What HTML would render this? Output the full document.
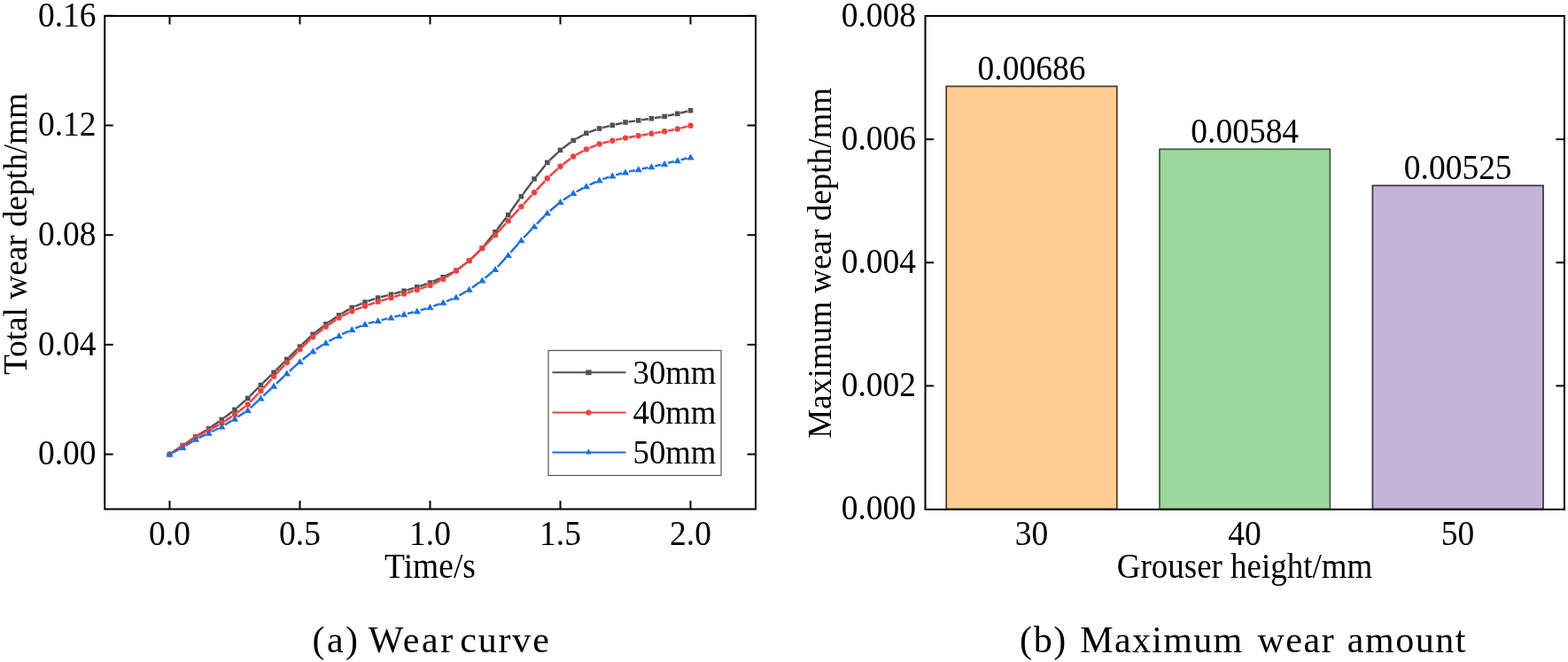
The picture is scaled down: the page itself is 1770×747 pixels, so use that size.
<!DOCTYPE html><html><head><meta charset="utf-8"><style>html,body{margin:0;padding:0;background:#fff;overflow:hidden;}svg{display:block;}text{font-family:"Liberation Serif","Times New Roman",serif;fill:#000;}</style></head><body>
<svg width="1770" height="747" viewBox="0 0 1770 747">
<rect width="1770" height="747" fill="#fff"/>
<line x1="194.39" y1="510.63" x2="203.31" y2="504.57" stroke="#515151" stroke-width="2.4"/>
<line x1="209.09" y1="500.63" x2="218.01" y2="494.57" stroke="#515151" stroke-width="2.4"/>
<line x1="223.90" y1="490.80" x2="232.60" y2="485.60" stroke="#515151" stroke-width="2.4"/>
<line x1="238.47" y1="481.79" x2="247.43" y2="475.51" stroke="#515151" stroke-width="2.4"/>
<line x1="253.09" y1="471.39" x2="262.21" y2="464.51" stroke="#515151" stroke-width="2.4"/>
<line x1="267.62" y1="460.08" x2="277.08" y2="451.72" stroke="#515151" stroke-width="2.4"/>
<line x1="282.16" y1="446.91" x2="291.94" y2="436.99" stroke="#515151" stroke-width="2.4"/>
<line x1="296.92" y1="432.07" x2="306.58" y2="422.73" stroke="#515151" stroke-width="2.4"/>
<line x1="311.57" y1="417.82" x2="321.33" y2="407.98" stroke="#515151" stroke-width="2.4"/>
<line x1="326.30" y1="403.05" x2="336.00" y2="393.55" stroke="#515151" stroke-width="2.4"/>
<line x1="341.05" y1="388.70" x2="350.65" y2="379.70" stroke="#515151" stroke-width="2.4"/>
<line x1="355.95" y1="375.13" x2="365.15" y2="367.87" stroke="#515151" stroke-width="2.4"/>
<line x1="370.79" y1="363.73" x2="379.71" y2="357.67" stroke="#515151" stroke-width="2.4"/>
<line x1="385.62" y1="353.93" x2="394.28" y2="348.87" stroke="#515151" stroke-width="2.4"/>
<line x1="400.53" y1="345.76" x2="408.77" y2="342.34" stroke="#515151" stroke-width="2.4"/>
<line x1="415.32" y1="339.89" x2="423.38" y2="337.21" stroke="#515151" stroke-width="2.4"/>
<line x1="430.09" y1="335.22" x2="438.01" y2="333.18" stroke="#515151" stroke-width="2.4"/>
<line x1="444.78" y1="331.38" x2="452.72" y2="329.22" stroke="#515151" stroke-width="2.4"/>
<line x1="459.45" y1="327.30" x2="467.45" y2="324.90" stroke="#515151" stroke-width="2.4"/>
<line x1="474.12" y1="322.79" x2="482.18" y2="320.11" stroke="#515151" stroke-width="2.4"/>
<line x1="488.72" y1="317.62" x2="496.98" y2="314.08" stroke="#515151" stroke-width="2.4"/>
<line x1="503.33" y1="311.14" x2="511.77" y2="306.96" stroke="#515151" stroke-width="2.4"/>
<line x1="517.69" y1="303.29" x2="526.81" y2="296.41" stroke="#515151" stroke-width="2.4"/>
<line x1="532.11" y1="291.86" x2="541.79" y2="282.44" stroke="#515151" stroke-width="2.4"/>
<line x1="546.50" y1="277.28" x2="556.80" y2="264.52" stroke="#515151" stroke-width="2.4"/>
<line x1="561.12" y1="259.02" x2="571.58" y2="245.28" stroke="#515151" stroke-width="2.4"/>
<line x1="575.72" y1="239.64" x2="586.38" y2="224.56" stroke="#515151" stroke-width="2.4"/>
<line x1="590.49" y1="218.89" x2="601.01" y2="204.71" stroke="#515151" stroke-width="2.4"/>
<line x1="605.28" y1="199.16" x2="615.62" y2="186.14" stroke="#515151" stroke-width="2.4"/>
<line x1="620.33" y1="180.99" x2="629.97" y2="171.81" stroke="#515151" stroke-width="2.4"/>
<line x1="635.31" y1="167.32" x2="644.39" y2="160.58" stroke="#515151" stroke-width="2.4"/>
<line x1="650.26" y1="156.79" x2="658.84" y2="152.01" stroke="#515151" stroke-width="2.4"/>
<line x1="665.19" y1="149.11" x2="673.31" y2="146.19" stroke="#515151" stroke-width="2.4"/>
<line x1="679.99" y1="144.15" x2="687.91" y2="142.15" stroke="#515151" stroke-width="2.4"/>
<line x1="694.72" y1="140.53" x2="702.58" y2="138.77" stroke="#515151" stroke-width="2.4"/>
<line x1="709.46" y1="137.51" x2="717.24" y2="136.39" stroke="#515151" stroke-width="2.4"/>
<line x1="724.16" y1="135.38" x2="731.94" y2="134.22" stroke="#515151" stroke-width="2.4"/>
<line x1="738.86" y1="133.16" x2="746.64" y2="131.94" stroke="#515151" stroke-width="2.4"/>
<line x1="753.52" y1="130.68" x2="761.38" y2="129.02" stroke="#515151" stroke-width="2.4"/>
<line x1="768.20" y1="127.47" x2="776.10" y2="125.53" stroke="#515151" stroke-width="2.4"/>
<line x1="194.68" y1="510.52" x2="203.02" y2="505.08" stroke="#F14040" stroke-width="2.4"/>
<line x1="209.36" y1="500.89" x2="217.74" y2="495.31" stroke="#F14040" stroke-width="2.4"/>
<line x1="224.28" y1="491.45" x2="232.22" y2="487.35" stroke="#F14040" stroke-width="2.4"/>
<line x1="238.93" y1="483.77" x2="246.97" y2="479.33" stroke="#F14040" stroke-width="2.4"/>
<line x1="253.46" y1="475.39" x2="261.84" y2="469.81" stroke="#F14040" stroke-width="2.4"/>
<line x1="268.02" y1="465.40" x2="276.68" y2="458.80" stroke="#F14040" stroke-width="2.4"/>
<line x1="282.31" y1="453.74" x2="291.79" y2="443.76" stroke="#F14040" stroke-width="2.4"/>
<line x1="296.95" y1="438.19" x2="306.55" y2="427.61" stroke="#F14040" stroke-width="2.4"/>
<line x1="311.70" y1="422.03" x2="321.20" y2="411.87" stroke="#F14040" stroke-width="2.4"/>
<line x1="326.48" y1="406.40" x2="335.82" y2="397.00" stroke="#F14040" stroke-width="2.4"/>
<line x1="341.24" y1="391.67" x2="350.46" y2="382.83" stroke="#F14040" stroke-width="2.4"/>
<line x1="356.18" y1="377.85" x2="364.92" y2="370.95" stroke="#F14040" stroke-width="2.4"/>
<line x1="371.04" y1="366.46" x2="379.46" y2="360.74" stroke="#F14040" stroke-width="2.4"/>
<line x1="385.98" y1="356.85" x2="393.92" y2="352.75" stroke="#F14040" stroke-width="2.4"/>
<line x1="400.83" y1="349.61" x2="408.47" y2="346.59" stroke="#F14040" stroke-width="2.4"/>
<line x1="415.61" y1="344.02" x2="423.09" y2="341.58" stroke="#F14040" stroke-width="2.4"/>
<line x1="430.33" y1="339.29" x2="437.77" y2="337.01" stroke="#F14040" stroke-width="2.4"/>
<line x1="445.05" y1="334.83" x2="452.45" y2="332.67" stroke="#F14040" stroke-width="2.4"/>
<line x1="459.73" y1="330.49" x2="467.17" y2="328.21" stroke="#F14040" stroke-width="2.4"/>
<line x1="474.38" y1="325.83" x2="481.92" y2="323.17" stroke="#F14040" stroke-width="2.4"/>
<line x1="488.94" y1="320.29" x2="496.76" y2="316.61" stroke="#F14040" stroke-width="2.4"/>
<line x1="503.38" y1="312.92" x2="511.72" y2="307.48" stroke="#F14040" stroke-width="2.4"/>
<line x1="517.93" y1="303.11" x2="526.57" y2="296.59" stroke="#F14040" stroke-width="2.4"/>
<line x1="532.35" y1="291.68" x2="541.55" y2="282.92" stroke="#F14040" stroke-width="2.4"/>
<line x1="546.95" y1="277.58" x2="556.35" y2="267.92" stroke="#F14040" stroke-width="2.4"/>
<line x1="561.57" y1="262.40" x2="571.13" y2="252.00" stroke="#F14040" stroke-width="2.4"/>
<line x1="576.26" y1="246.39" x2="585.84" y2="235.91" stroke="#F14040" stroke-width="2.4"/>
<line x1="590.98" y1="230.31" x2="600.52" y2="219.99" stroke="#F14040" stroke-width="2.4"/>
<line x1="605.68" y1="214.41" x2="615.22" y2="204.09" stroke="#F14040" stroke-width="2.4"/>
<line x1="620.60" y1="198.73" x2="629.70" y2="190.37" stroke="#F14040" stroke-width="2.4"/>
<line x1="635.51" y1="185.48" x2="644.19" y2="178.82" stroke="#F14040" stroke-width="2.4"/>
<line x1="650.53" y1="174.67" x2="658.57" y2="170.23" stroke="#F14040" stroke-width="2.4"/>
<line x1="665.42" y1="166.96" x2="673.08" y2="163.84" stroke="#F14040" stroke-width="2.4"/>
<line x1="680.29" y1="161.47" x2="687.61" y2="159.63" stroke="#F14040" stroke-width="2.4"/>
<line x1="695.02" y1="157.92" x2="702.28" y2="156.38" stroke="#F14040" stroke-width="2.4"/>
<line x1="709.75" y1="154.96" x2="716.95" y2="153.74" stroke="#F14040" stroke-width="2.4"/>
<line x1="724.45" y1="152.49" x2="731.65" y2="151.31" stroke="#F14040" stroke-width="2.4"/>
<line x1="739.15" y1="150.09" x2="746.35" y2="148.91" stroke="#F14040" stroke-width="2.4"/>
<line x1="753.83" y1="147.59" x2="761.07" y2="146.21" stroke="#F14040" stroke-width="2.4"/>
<line x1="768.48" y1="144.55" x2="775.82" y2="142.65" stroke="#F14040" stroke-width="2.4"/>
<line x1="195.05" y1="510.66" x2="202.65" y2="506.74" stroke="#1A6FDF" stroke-width="2.4"/>
<line x1="209.60" y1="502.79" x2="217.50" y2="497.91" stroke="#1A6FDF" stroke-width="2.4"/>
<line x1="224.51" y1="494.08" x2="231.99" y2="490.52" stroke="#1A6FDF" stroke-width="2.4"/>
<line x1="239.17" y1="487.00" x2="246.73" y2="483.20" stroke="#1A6FDF" stroke-width="2.4"/>
<line x1="253.74" y1="479.36" x2="261.56" y2="474.74" stroke="#1A6FDF" stroke-width="2.4"/>
<line x1="268.35" y1="470.51" x2="276.35" y2="465.29" stroke="#1A6FDF" stroke-width="2.4"/>
<line x1="282.63" y1="460.37" x2="291.47" y2="452.13" stroke="#1A6FDF" stroke-width="2.4"/>
<line x1="297.33" y1="446.67" x2="306.17" y2="438.43" stroke="#1A6FDF" stroke-width="2.4"/>
<line x1="311.99" y1="432.93" x2="320.91" y2="424.37" stroke="#1A6FDF" stroke-width="2.4"/>
<line x1="326.77" y1="418.92" x2="335.53" y2="410.98" stroke="#1A6FDF" stroke-width="2.4"/>
<line x1="341.62" y1="405.80" x2="350.08" y2="399.00" stroke="#1A6FDF" stroke-width="2.4"/>
<line x1="356.55" y1="394.31" x2="364.55" y2="389.09" stroke="#1A6FDF" stroke-width="2.4"/>
<line x1="371.41" y1="384.99" x2="379.09" y2="380.81" stroke="#1A6FDF" stroke-width="2.4"/>
<line x1="386.21" y1="377.18" x2="393.69" y2="373.62" stroke="#1A6FDF" stroke-width="2.4"/>
<line x1="401.01" y1="370.41" x2="408.29" y2="367.49" stroke="#1A6FDF" stroke-width="2.4"/>
<line x1="415.86" y1="364.95" x2="422.84" y2="363.05" stroke="#1A6FDF" stroke-width="2.4"/>
<line x1="430.59" y1="361.05" x2="437.51" y2="359.35" stroke="#1A6FDF" stroke-width="2.4"/>
<line x1="445.29" y1="357.45" x2="452.21" y2="355.75" stroke="#1A6FDF" stroke-width="2.4"/>
<line x1="459.99" y1="353.85" x2="466.91" y2="352.15" stroke="#1A6FDF" stroke-width="2.4"/>
<line x1="474.62" y1="350.03" x2="481.68" y2="347.87" stroke="#1A6FDF" stroke-width="2.4"/>
<line x1="489.27" y1="345.37" x2="496.43" y2="342.83" stroke="#1A6FDF" stroke-width="2.4"/>
<line x1="503.90" y1="339.99" x2="511.20" y2="337.01" stroke="#1A6FDF" stroke-width="2.4"/>
<line x1="518.34" y1="333.46" x2="526.16" y2="328.84" stroke="#1A6FDF" stroke-width="2.4"/>
<line x1="532.87" y1="324.49" x2="541.03" y2="318.71" stroke="#1A6FDF" stroke-width="2.4"/>
<line x1="547.36" y1="313.82" x2="555.94" y2="306.58" stroke="#1A6FDF" stroke-width="2.4"/>
<line x1="561.70" y1="301.05" x2="571.00" y2="290.85" stroke="#1A6FDF" stroke-width="2.4"/>
<line x1="576.34" y1="284.90" x2="585.76" y2="274.20" stroke="#1A6FDF" stroke-width="2.4"/>
<line x1="591.13" y1="268.28" x2="600.37" y2="258.42" stroke="#1A6FDF" stroke-width="2.4"/>
<line x1="605.91" y1="252.65" x2="614.99" y2="243.45" stroke="#1A6FDF" stroke-width="2.4"/>
<line x1="620.83" y1="237.98" x2="629.47" y2="230.52" stroke="#1A6FDF" stroke-width="2.4"/>
<line x1="635.83" y1="225.68" x2="643.87" y2="220.32" stroke="#1A6FDF" stroke-width="2.4"/>
<line x1="650.73" y1="216.23" x2="658.37" y2="212.17" stroke="#1A6FDF" stroke-width="2.4"/>
<line x1="665.53" y1="208.62" x2="672.97" y2="205.18" stroke="#1A6FDF" stroke-width="2.4"/>
<line x1="680.38" y1="202.19" x2="687.52" y2="199.71" stroke="#1A6FDF" stroke-width="2.4"/>
<line x1="695.17" y1="197.37" x2="702.13" y2="195.53" stroke="#1A6FDF" stroke-width="2.4"/>
<line x1="709.91" y1="193.65" x2="716.79" y2="192.15" stroke="#1A6FDF" stroke-width="2.4"/>
<line x1="724.62" y1="190.50" x2="731.48" y2="189.10" stroke="#1A6FDF" stroke-width="2.4"/>
<line x1="739.30" y1="187.40" x2="746.20" y2="185.80" stroke="#1A6FDF" stroke-width="2.4"/>
<line x1="753.99" y1="183.95" x2="760.91" y2="182.25" stroke="#1A6FDF" stroke-width="2.4"/>
<line x1="768.67" y1="180.30" x2="775.63" y2="178.50" stroke="#1A6FDF" stroke-width="2.4"/>
<rect x="188.7" y="509.8" width="5.6" height="5.6" fill="#515151"/>
<rect x="203.4" y="499.8" width="5.6" height="5.6" fill="#515151"/>
<rect x="218.1" y="489.8" width="5.6" height="5.6" fill="#515151"/>
<rect x="232.8" y="481.0" width="5.6" height="5.6" fill="#515151"/>
<rect x="247.5" y="470.7" width="5.6" height="5.6" fill="#515151"/>
<rect x="262.2" y="459.6" width="5.6" height="5.6" fill="#515151"/>
<rect x="276.9" y="446.6" width="5.6" height="5.6" fill="#515151"/>
<rect x="291.6" y="431.7" width="5.6" height="5.6" fill="#515151"/>
<rect x="306.3" y="417.5" width="5.6" height="5.6" fill="#515151"/>
<rect x="321.0" y="402.7" width="5.6" height="5.6" fill="#515151"/>
<rect x="335.7" y="388.3" width="5.6" height="5.6" fill="#515151"/>
<rect x="350.4" y="374.5" width="5.6" height="5.6" fill="#515151"/>
<rect x="365.1" y="362.9" width="5.6" height="5.6" fill="#515151"/>
<rect x="379.8" y="352.9" width="5.6" height="5.6" fill="#515151"/>
<rect x="394.5" y="344.3" width="5.6" height="5.6" fill="#515151"/>
<rect x="409.2" y="338.2" width="5.6" height="5.6" fill="#515151"/>
<rect x="423.9" y="333.3" width="5.6" height="5.6" fill="#515151"/>
<rect x="438.6" y="329.5" width="5.6" height="5.6" fill="#515151"/>
<rect x="453.3" y="325.5" width="5.6" height="5.6" fill="#515151"/>
<rect x="468.0" y="321.1" width="5.6" height="5.6" fill="#515151"/>
<rect x="482.7" y="316.2" width="5.6" height="5.6" fill="#515151"/>
<rect x="497.4" y="309.9" width="5.6" height="5.6" fill="#515151"/>
<rect x="512.1" y="302.6" width="5.6" height="5.6" fill="#515151"/>
<rect x="526.8" y="291.5" width="5.6" height="5.6" fill="#515151"/>
<rect x="541.5" y="277.2" width="5.6" height="5.6" fill="#515151"/>
<rect x="556.2" y="259.0" width="5.6" height="5.6" fill="#515151"/>
<rect x="570.9" y="239.7" width="5.6" height="5.6" fill="#515151"/>
<rect x="585.6" y="218.9" width="5.6" height="5.6" fill="#515151"/>
<rect x="600.3" y="199.1" width="5.6" height="5.6" fill="#515151"/>
<rect x="615.0" y="180.6" width="5.6" height="5.6" fill="#515151"/>
<rect x="629.7" y="166.6" width="5.6" height="5.6" fill="#515151"/>
<rect x="644.4" y="155.7" width="5.6" height="5.6" fill="#515151"/>
<rect x="659.1" y="147.5" width="5.6" height="5.6" fill="#515151"/>
<rect x="673.8" y="142.2" width="5.6" height="5.6" fill="#515151"/>
<rect x="688.5" y="138.5" width="5.6" height="5.6" fill="#515151"/>
<rect x="703.2" y="135.2" width="5.6" height="5.6" fill="#515151"/>
<rect x="717.9" y="133.1" width="5.6" height="5.6" fill="#515151"/>
<rect x="732.6" y="130.9" width="5.6" height="5.6" fill="#515151"/>
<rect x="747.3" y="128.6" width="5.6" height="5.6" fill="#515151"/>
<rect x="762.0" y="125.5" width="5.6" height="5.6" fill="#515151"/>
<rect x="776.7" y="121.9" width="5.6" height="5.6" fill="#515151"/>
<circle cx="191.5" cy="512.6" r="3.2" fill="#F14040"/>
<circle cx="206.2" cy="503.0" r="3.2" fill="#F14040"/>
<circle cx="220.9" cy="493.2" r="3.2" fill="#F14040"/>
<circle cx="235.6" cy="485.6" r="3.2" fill="#F14040"/>
<circle cx="250.3" cy="477.5" r="3.2" fill="#F14040"/>
<circle cx="265.0" cy="467.7" r="3.2" fill="#F14040"/>
<circle cx="279.7" cy="456.5" r="3.2" fill="#F14040"/>
<circle cx="294.4" cy="441.0" r="3.2" fill="#F14040"/>
<circle cx="309.1" cy="424.8" r="3.2" fill="#F14040"/>
<circle cx="323.8" cy="409.1" r="3.2" fill="#F14040"/>
<circle cx="338.5" cy="394.3" r="3.2" fill="#F14040"/>
<circle cx="353.2" cy="380.2" r="3.2" fill="#F14040"/>
<circle cx="367.9" cy="368.6" r="3.2" fill="#F14040"/>
<circle cx="382.6" cy="358.6" r="3.2" fill="#F14040"/>
<circle cx="397.3" cy="351.0" r="3.2" fill="#F14040"/>
<circle cx="412.0" cy="345.2" r="3.2" fill="#F14040"/>
<circle cx="426.7" cy="340.4" r="3.2" fill="#F14040"/>
<circle cx="441.4" cy="335.9" r="3.2" fill="#F14040"/>
<circle cx="456.1" cy="331.6" r="3.2" fill="#F14040"/>
<circle cx="470.8" cy="327.1" r="3.2" fill="#F14040"/>
<circle cx="485.5" cy="321.9" r="3.2" fill="#F14040"/>
<circle cx="500.2" cy="315.0" r="3.2" fill="#F14040"/>
<circle cx="514.9" cy="305.4" r="3.2" fill="#F14040"/>
<circle cx="529.6" cy="294.3" r="3.2" fill="#F14040"/>
<circle cx="544.3" cy="280.3" r="3.2" fill="#F14040"/>
<circle cx="559.0" cy="265.2" r="3.2" fill="#F14040"/>
<circle cx="573.7" cy="249.2" r="3.2" fill="#F14040"/>
<circle cx="588.4" cy="233.1" r="3.2" fill="#F14040"/>
<circle cx="603.1" cy="217.2" r="3.2" fill="#F14040"/>
<circle cx="617.8" cy="201.3" r="3.2" fill="#F14040"/>
<circle cx="632.5" cy="187.8" r="3.2" fill="#F14040"/>
<circle cx="647.2" cy="176.5" r="3.2" fill="#F14040"/>
<circle cx="661.9" cy="168.4" r="3.2" fill="#F14040"/>
<circle cx="676.6" cy="162.4" r="3.2" fill="#F14040"/>
<circle cx="691.3" cy="158.7" r="3.2" fill="#F14040"/>
<circle cx="706.0" cy="155.6" r="3.2" fill="#F14040"/>
<circle cx="720.7" cy="153.1" r="3.2" fill="#F14040"/>
<circle cx="735.4" cy="150.7" r="3.2" fill="#F14040"/>
<circle cx="750.1" cy="148.3" r="3.2" fill="#F14040"/>
<circle cx="764.8" cy="145.5" r="3.2" fill="#F14040"/>
<circle cx="779.5" cy="141.7" r="3.2" fill="#F14040"/>
<polygon points="191.5,508.5 195.7,515.5 187.3,515.5" fill="#1A6FDF"/>
<polygon points="206.2,500.9 210.4,507.9 202.0,507.9" fill="#1A6FDF"/>
<polygon points="220.9,491.8 225.1,498.8 216.7,498.8" fill="#1A6FDF"/>
<polygon points="235.6,484.8 239.8,491.8 231.4,491.8" fill="#1A6FDF"/>
<polygon points="250.3,477.4 254.5,484.4 246.1,484.4" fill="#1A6FDF"/>
<polygon points="265.0,468.7 269.2,475.7 260.8,475.7" fill="#1A6FDF"/>
<polygon points="279.7,459.1 283.9,466.1 275.5,466.1" fill="#1A6FDF"/>
<polygon points="294.4,445.4 298.6,452.4 290.2,452.4" fill="#1A6FDF"/>
<polygon points="309.1,431.7 313.3,438.7 304.9,438.7" fill="#1A6FDF"/>
<polygon points="323.8,417.6 328.0,424.6 319.6,424.6" fill="#1A6FDF"/>
<polygon points="338.5,404.3 342.7,411.3 334.3,411.3" fill="#1A6FDF"/>
<polygon points="353.2,392.5 357.4,399.5 349.0,399.5" fill="#1A6FDF"/>
<polygon points="367.9,382.9 372.1,389.9 363.7,389.9" fill="#1A6FDF"/>
<polygon points="382.6,374.9 386.8,381.9 378.4,381.9" fill="#1A6FDF"/>
<polygon points="397.3,367.9 401.5,374.9 393.1,374.9" fill="#1A6FDF"/>
<polygon points="412.0,362.0 416.2,369.0 407.8,369.0" fill="#1A6FDF"/>
<polygon points="426.7,358.0 430.9,365.0 422.5,365.0" fill="#1A6FDF"/>
<polygon points="441.4,354.4 445.6,361.4 437.2,361.4" fill="#1A6FDF"/>
<polygon points="456.1,350.8 460.3,357.8 451.9,357.8" fill="#1A6FDF"/>
<polygon points="470.8,347.2 475.0,354.2 466.6,354.2" fill="#1A6FDF"/>
<polygon points="485.5,342.7 489.7,349.7 481.3,349.7" fill="#1A6FDF"/>
<polygon points="500.2,337.5 504.4,344.5 496.0,344.5" fill="#1A6FDF"/>
<polygon points="514.9,331.5 519.1,338.5 510.7,338.5" fill="#1A6FDF"/>
<polygon points="529.6,322.8 533.8,329.8 525.4,329.8" fill="#1A6FDF"/>
<polygon points="544.3,312.4 548.5,319.4 540.1,319.4" fill="#1A6FDF"/>
<polygon points="559.0,300.0 563.2,307.0 554.8,307.0" fill="#1A6FDF"/>
<polygon points="573.7,283.9 577.9,290.9 569.5,290.9" fill="#1A6FDF"/>
<polygon points="588.4,267.2 592.6,274.2 584.2,274.2" fill="#1A6FDF"/>
<polygon points="603.1,251.5 607.3,258.5 598.9,258.5" fill="#1A6FDF"/>
<polygon points="617.8,236.6 622.0,243.6 613.6,243.6" fill="#1A6FDF"/>
<polygon points="632.5,223.9 636.7,230.9 628.3,230.9" fill="#1A6FDF"/>
<polygon points="647.2,214.1 651.4,221.1 643.0,221.1" fill="#1A6FDF"/>
<polygon points="661.9,206.3 666.1,213.3 657.7,213.3" fill="#1A6FDF"/>
<polygon points="676.6,199.5 680.8,206.5 672.4,206.5" fill="#1A6FDF"/>
<polygon points="691.3,194.4 695.5,201.4 687.1,201.4" fill="#1A6FDF"/>
<polygon points="706.0,190.5 710.2,197.5 701.8,197.5" fill="#1A6FDF"/>
<polygon points="720.7,187.3 724.9,194.3 716.5,194.3" fill="#1A6FDF"/>
<polygon points="735.4,184.3 739.6,191.3 731.2,191.3" fill="#1A6FDF"/>
<polygon points="750.1,180.9 754.3,187.9 745.9,187.9" fill="#1A6FDF"/>
<polygon points="764.8,177.3 769.0,184.3 760.6,184.3" fill="#1A6FDF"/>
<polygon points="779.5,173.5 783.7,180.5 775.3,180.5" fill="#1A6FDF"/>
<rect x="118.2" y="18.0" width="734.8" height="556.5" fill="none" stroke="#000" stroke-width="2.0"/>
<line x1="191.5" y1="574.5" x2="191.5" y2="565.0" stroke="#000" stroke-width="2.0"/>
<line x1="191.5" y1="18.0" x2="191.5" y2="27.5" stroke="#000" stroke-width="2.0"/>
<text transform="translate(191.50 615.00) scale(1.0 1.045)" font-size="37.5" text-anchor="middle">0.0</text>
<line x1="338.5" y1="574.5" x2="338.5" y2="565.0" stroke="#000" stroke-width="2.0"/>
<line x1="338.5" y1="18.0" x2="338.5" y2="27.5" stroke="#000" stroke-width="2.0"/>
<text transform="translate(338.50 615.00) scale(1.0 1.045)" font-size="37.5" text-anchor="middle">0.5</text>
<line x1="485.5" y1="574.5" x2="485.5" y2="565.0" stroke="#000" stroke-width="2.0"/>
<line x1="485.5" y1="18.0" x2="485.5" y2="27.5" stroke="#000" stroke-width="2.0"/>
<text transform="translate(485.50 615.00) scale(1.0 1.045)" font-size="37.5" text-anchor="middle">1.0</text>
<line x1="632.5" y1="574.5" x2="632.5" y2="565.0" stroke="#000" stroke-width="2.0"/>
<line x1="632.5" y1="18.0" x2="632.5" y2="27.5" stroke="#000" stroke-width="2.0"/>
<text transform="translate(632.50 615.00) scale(1.0 1.045)" font-size="37.5" text-anchor="middle">1.5</text>
<line x1="779.5" y1="574.5" x2="779.5" y2="565.0" stroke="#000" stroke-width="2.0"/>
<line x1="779.5" y1="18.0" x2="779.5" y2="27.5" stroke="#000" stroke-width="2.0"/>
<text transform="translate(779.50 615.00) scale(1.0 1.045)" font-size="37.5" text-anchor="middle">2.0</text>
<line x1="118.2" y1="512.6" x2="127.7" y2="512.6" stroke="#000" stroke-width="2.0"/>
<line x1="853.0" y1="512.6" x2="843.5" y2="512.6" stroke="#000" stroke-width="2.0"/>
<text transform="translate(108.60 524.40) scale(1.0 1.045)" font-size="37.5" text-anchor="end">0.00</text>
<line x1="118.2" y1="388.9" x2="127.7" y2="388.9" stroke="#000" stroke-width="2.0"/>
<line x1="853.0" y1="388.9" x2="843.5" y2="388.9" stroke="#000" stroke-width="2.0"/>
<text transform="translate(108.60 400.70) scale(1.0 1.045)" font-size="37.5" text-anchor="end">0.04</text>
<line x1="118.2" y1="265.2" x2="127.7" y2="265.2" stroke="#000" stroke-width="2.0"/>
<line x1="853.0" y1="265.2" x2="843.5" y2="265.2" stroke="#000" stroke-width="2.0"/>
<text transform="translate(108.60 277.00) scale(1.0 1.045)" font-size="37.5" text-anchor="end">0.08</text>
<line x1="118.2" y1="141.5" x2="127.7" y2="141.5" stroke="#000" stroke-width="2.0"/>
<line x1="853.0" y1="141.5" x2="843.5" y2="141.5" stroke="#000" stroke-width="2.0"/>
<text transform="translate(108.60 153.30) scale(1.0 1.045)" font-size="37.5" text-anchor="end">0.12</text>
<line x1="118.2" y1="17.8" x2="127.7" y2="17.8" stroke="#000" stroke-width="2.0"/>
<line x1="853.0" y1="17.8" x2="843.5" y2="17.8" stroke="#000" stroke-width="2.0"/>
<text transform="translate(108.60 29.60) scale(1.0 1.045)" font-size="37.5" text-anchor="end">0.16</text>
<text transform="translate(485.50 652.00) scale(1.0 1.045)" font-size="37.5" text-anchor="middle">Time/s</text>
<text transform="translate(29.80 264.00) rotate(-90) scale(0.994 1.0)" font-size="37.5" text-anchor="middle">Total wear depth/mm</text>
<rect x="619" y="395.5" width="195" height="141" fill="#fff" stroke="#555" stroke-width="1.2"/>
<line x1="623.5" y1="420.3" x2="706.5" y2="420.3" stroke="#515151" stroke-width="2.0"/>
<rect x="661.2" y="417.4" width="6.4" height="5.8" fill="#515151"/>
<text transform="translate(714.53 432.90) scale(0.98 1.0)" font-size="37.5">30mm</text>
<line x1="623.5" y1="465.6" x2="706.5" y2="465.6" stroke="#F14040" stroke-width="2.0"/>
<circle cx="664.4" cy="465.6" r="3.2" fill="#F14040"/>
<text transform="translate(714.53 478.20) scale(0.98 1.0)" font-size="37.5">40mm</text>
<line x1="623.5" y1="510.5" x2="706.5" y2="510.5" stroke="#1A6FDF" stroke-width="2.0"/>
<polygon points="664.4,506.3 667.6,512.5 661.2,512.5" fill="#1A6FDF"/>
<text transform="translate(714.53 523.10) scale(0.98 1.0)" font-size="37.5">50mm</text>
<rect x="1068.2" y="97.4" width="192.6" height="477.1" fill="#FECC90" stroke="#4a3822" stroke-width="1.7"/>
<text transform="translate(1164.50 89.89) scale(1.0 1.045)" font-size="37.5" text-anchor="middle">0.00686</text>
<rect x="1309.0" y="168.3" width="192.4" height="406.2" fill="#9CD79B" stroke="#435a42" stroke-width="1.7"/>
<text transform="translate(1405.20 160.83) scale(1.0 1.045)" font-size="37.5" text-anchor="middle">0.00584</text>
<rect x="1549.4" y="209.4" width="192.6" height="365.1" fill="#C5B4D7" stroke="#38333f" stroke-width="1.7"/>
<text transform="translate(1645.70 201.86) scale(1.0 1.045)" font-size="37.5" text-anchor="middle">0.00525</text>
<rect x="1044.5" y="18.0" width="721.4000000000001" height="556.8" fill="none" stroke="#000" stroke-width="2.0"/>
<text transform="translate(1034.00 586.30) scale(1.0 1.045)" font-size="37.5" text-anchor="end">0.000</text>
<line x1="1044.5" y1="435.4" x2="1054.0" y2="435.4" stroke="#000" stroke-width="2.0"/>
<line x1="1765.9" y1="435.4" x2="1756.4" y2="435.4" stroke="#000" stroke-width="2.0"/>
<text transform="translate(1034.00 447.20) scale(1.0 1.045)" font-size="37.5" text-anchor="end">0.002</text>
<line x1="1044.5" y1="296.3" x2="1054.0" y2="296.3" stroke="#000" stroke-width="2.0"/>
<line x1="1765.9" y1="296.3" x2="1756.4" y2="296.3" stroke="#000" stroke-width="2.0"/>
<text transform="translate(1034.00 308.10) scale(1.0 1.045)" font-size="37.5" text-anchor="end">0.004</text>
<line x1="1044.5" y1="157.2" x2="1054.0" y2="157.2" stroke="#000" stroke-width="2.0"/>
<line x1="1765.9" y1="157.2" x2="1756.4" y2="157.2" stroke="#000" stroke-width="2.0"/>
<text transform="translate(1034.00 169.00) scale(1.0 1.045)" font-size="37.5" text-anchor="end">0.006</text>
<text transform="translate(1034.00 29.90) scale(1.0 1.045)" font-size="37.5" text-anchor="end">0.008</text>
<text transform="translate(1164.50 615.00) scale(1.0 1.045)" font-size="37.5" text-anchor="middle">30</text>
<text transform="translate(1405.00 615.00) scale(1.0 1.045)" font-size="37.5" text-anchor="middle">40</text>
<text transform="translate(1645.50 615.00) scale(1.0 1.045)" font-size="37.5" text-anchor="middle">50</text>
<text transform="translate(1405.00 651.80) scale(0.986 1.045)" font-size="37.5" text-anchor="middle">Grouser height/mm</text>
<text transform="translate(937.70 296.70) rotate(-90) scale(0.99 1.02)" font-size="37.5" text-anchor="middle">Maximum wear depth/mm</text>
<text transform="translate(352.40 736.00)" font-size="42" letter-spacing="2.5">(a)</text>
<text transform="translate(415.80 736.00)" font-size="42" letter-spacing="2.63">Wear</text>
<text transform="translate(519.20 736.00)" font-size="42" letter-spacing="1.83">curve</text>
<text transform="translate(1151.00 736.00)" font-size="42" letter-spacing="1.65">(b)</text>
<text transform="translate(1219.20 736.00)" font-size="42" letter-spacing="1.35">Maximum</text>
<text transform="translate(1419.40 736.00)" font-size="42" letter-spacing="1.6">wear</text>
<text transform="translate(1520.80 736.00)" font-size="42" letter-spacing="1.54">amount</text>
</svg></body></html>
